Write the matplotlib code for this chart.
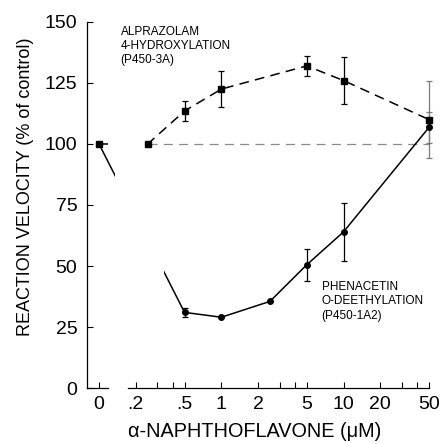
import matplotlib
matplotlib.use("Agg")
import matplotlib.pyplot as plt
import numpy as np

plt.rcParams['font.family'] = ['Liberation Sans', 'DejaVu Sans']
plt.rcParams['lines.scale_dashes'] = False

# ---- data ------------------------------------------------------------------
# alprazolam 4-hydroxylation (P450-3A)
alp_conc = [0, 0.25, 0.5, 1, 5, 10, 50]
alp_vel = [100, 100, 113.5, 122.5, 132, 126, 110]
alp_err = [0, 0, 4, 7.5, 4, 9.5, 15.7]

# phenacetin O-deethylation (P450-1A2)
phe_conc = [0, 0.5, 1, 2.5, 5, 10, 50]
phe_vel = [100, 31, 29, 35.5, 50.5, 64, 106.8]
phe_err = [0, 1.7, 0, 0, 6.6, 12, 6.3]

control = 100
xticks = [0, 0.2, 0.3, 0.4, 0.5, 1, 2, 3, 4, 5, 10, 20, 30, 40, 50]
xticklabels = ['0', '.2', '', '', '.5', '1', '2', '', '', '5', '10', '20', '', '', '50']
yticks = [0, 25, 50, 75, 100, 125, 150]


# log axis with the zero dose put where .1 would be
def fwd(x):
    x = np.asarray(x, dtype=float)
    return np.log10(np.where(x > 0, x, 0.1))


def inv(u):
    return 10.0 ** np.asarray(u, dtype=float)


# ---- plot ------------------------------------------------------------------
fig = plt.figure(figsize=(4.41, 4.44), dpi=100)
ax = fig.add_axes([0.1973, 0.1261, 0.7755, 0.8244])
ax.set_xscale('function', functions=(fwd, inv))

# control reference line
ax.plot([alp_conc[1], alp_conc[-1]], [control, control], color='#8a8a8a',
        lw=0.9, dashes=(6.5, 4.5), zorder=1)

# phenacetin (solid, circles)
ax.plot(phe_conc, phe_vel, color='black', lw=1.1, zorder=2, clip_on=False)
ax.plot(phe_conc[1:], phe_vel[1:], 'o', color='black', ms=4, zorder=4, clip_on=False)

# alprazolam (dashed, squares)
ax.plot(alp_conc, alp_vel, color='black', lw=1.1, dashes=(7, 4.5), zorder=2, clip_on=False)
ax.plot(alp_conc, alp_vel, 's', color='black', ms=4, zorder=5, clip_on=False)

# error bars
for conc, vel, err in ((alp_conc, alp_vel, alp_err), (phe_conc, phe_vel, phe_err)):
    idx = [i for i in range(len(err)) if err[i] > 0]
    for i in idx:
        col = '#7a7a7a' if conc[i] == 50 else 'black'
        ax.errorbar([conc[i]], [vel[i]], yerr=[err[i]], fmt='none', ecolor=col,
                    elinewidth=0.9, capsize=2.3, capthick=0.9, zorder=3, clip_on=False)

# break in the curves between 0 and .2
ax.fill_between([0.135, 0.341], 44, 90, color='white', lw=0, zorder=2.5)
ax.fill_between([0.1186, 0.2296], 96.5, 103.5, color='white', lw=0, zorder=2.5)

# axes: broken x axis
for s in ['top', 'right', 'bottom']:
    ax.spines[s].set_visible(False)
ax.spines['left'].set_linewidth(0.9)
ax.plot([0.0797, 0.1186], [0, 0], color='black', lw=0.9, clip_on=False, zorder=6)
ax.plot([0.173, 50], [0, 0], color='black', lw=0.9, clip_on=False, zorder=6)

ax.set_xticks(xticks)
ax.set_xticklabels(xticklabels)
ax.xaxis.set_minor_locator(matplotlib.ticker.NullLocator())
ax.set_yticks(yticks)
ax.set_xlim(0.0797, 50)
ax.set_ylim(0, 150)
ax.tick_params(direction='in', length=4, width=0.8, labelsize=14)
ax.tick_params(axis='x', pad=5.5)
ax.tick_params(axis='y', pad=7)

ax.set_ylabel('REACTION VELOCITY (% of control)', fontsize=13)
ax.yaxis.set_label_coords(-0.155, 0.549)
ax.set_xlabel('\u03b1-NAPHTHOFLAVONE (\u03bcM)', fontsize=14.3)
ax.xaxis.set_label_coords(0.491, -0.093)

ax.text(0.0985, 0.988, 'ALPRAZOLAM\n4-HYDROXYLATION\n(P450-3A)', transform=ax.transAxes,
        fontsize=8.5, va='top', ha='left', linespacing=1.2)
ax.text(0.686, 0.292, 'PHENACETIN\nO-DEETHYLATION\n(P450-1A2)', transform=ax.transAxes,
        fontsize=8.5, va='top', ha='left', linespacing=1.25)

fig.savefig('out.png', dpi=100)
